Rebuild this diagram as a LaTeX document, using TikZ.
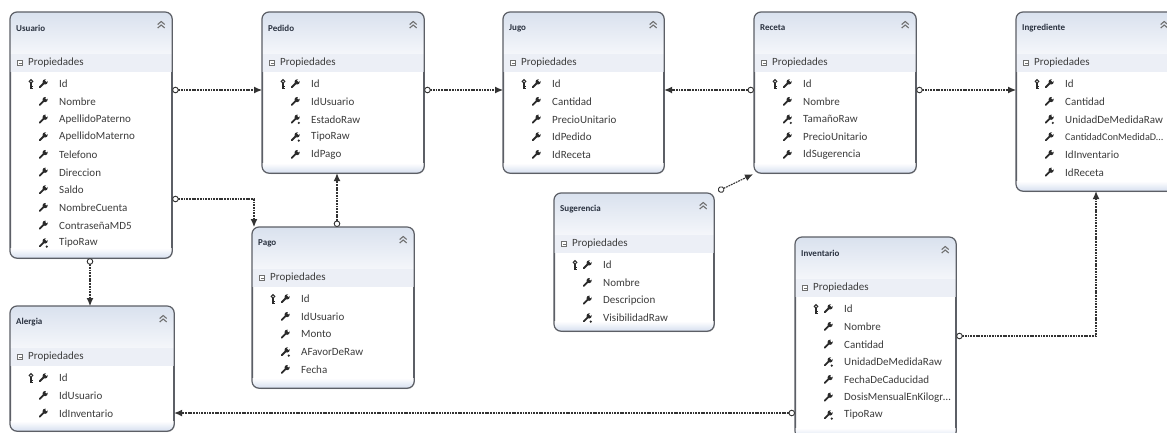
\documentclass[tikz,border=0pt]{standalone}
\usepackage{fontspec}
\setmainfont{Carlito}
\usetikzlibrary{arrows.meta,shadows,calc}
\definecolor{bordercol}{HTML}{5C5F66}
\definecolor{headtop}{HTML}{D9E1EE}
\definecolor{headbot}{HTML}{F4F6FA}
\definecolor{bandcol}{HTML}{ECEFF6}
\definecolor{footcol}{HTML}{D6DFEF}
\definecolor{txtcol}{HTML}{3C3C3C}
\definecolor{titlecol}{HTML}{2A3240}
\definecolor{iconcol}{HTML}{2A2A2A}
\definecolor{linecol}{HTML}{333333}
\definecolor{chevcol}{HTML}{707070}
\tikzset{
 entbox/.style={draw=bordercol, line width=1.2pt, rounded corners=7pt, fill=white, inner sep=0pt, anchor=north west,
   drop shadow={shadow xshift=1.2pt, shadow yshift=-1.4pt, opacity=0.35}},
 enttitle/.style={font=\fontsize{9}{10}\selectfont\bfseries, text=titlecol, anchor=west, inner sep=0pt},
 rowtext/.style={font=\fontsize{11}{12}\selectfont, text=txtcol, anchor=west, inner sep=0pt},
 rel/.style={draw=linecol, line width=1.1pt, dash pattern=on 1.8pt off 0.9pt,
   {Circle[open,fill=white,length=6.5pt,width=6.5pt,line width=0.9pt]}-{Latex[length=8pt,width=7pt]}},
}
\newcommand\wrenchicon[1]{%
 \begin{scope}[shift={(#1)}, x=1pt, y=1pt]
  \draw[iconcol, line width=1.8pt, line cap=round] (-3.3,-3.3) -- (1.2,1.2);
  \fill[iconcol] (2.1,2.1) circle (2.6pt);
  \fill[white] (3.5,3.5) circle (1.3pt);
 \end{scope}}
\newcommand\keyicon[1]{%
 \begin{scope}[shift={(#1)}, x=1pt, y=1pt]
  \draw[iconcol, line width=1pt] (0,2.6) circle (1.8pt);
  \draw[iconcol, line width=1.1pt] (0,0.8) -- (0,-4.6);
  \draw[iconcol, line width=0.9pt] (0,-2.8) -- (1.6,-2.8) (0,-4.3) -- (1.6,-4.3);
 \end{scope}}
\newcommand\rawdot[1]{%
 \begin{scope}[shift={(#1)}, x=1pt, y=1pt]
  \fill[iconcol] (3.8,-3.6) circle (1.2pt);
 \end{scope}}
\newcommand\chevicon[1]{%
 \begin{scope}[shift={(#1)}, x=1pt, y=1pt]
  \draw[chevcol, line width=1.1pt] (-3.5,0.5) -- (0,3.5) -- (3.5,0.5);
  \draw[chevcol, line width=1.1pt] (-3.5,-3) -- (0,0) -- (3.5,-3);
 \end{scope}}
\newcommand\minusicon[1]{%
 \begin{scope}[shift={(#1)}, x=1pt, y=1pt]
  \draw[chevcol, line width=0.5pt, fill=white] (-2.5,-2.5) rectangle (2.5,2.5);
  \draw[chevcol, line width=0.6pt] (-1.5,0) -- (1.5,0);
 \end{scope}}
% name, x, y, w, h, title, rows
\newcommand\entity[7]{%
 \node[entbox, minimum width=#4pt, minimum height=#5pt] (#1) at (#2,#3) {};
 \begin{scope}
  \clip[rounded corners=7pt] (#1.north west) rectangle (#1.south east);
  \shade[top color=headtop, bottom color=headbot] (#1.north west) rectangle ([yshift=-41pt]#1.north east);
  \fill[bandcol] ([yshift=-42pt]#1.north west) rectangle ([yshift=-60pt]#1.north east);
  \shade[top color=white, bottom color=footcol] ([yshift=10pt]#1.south west) rectangle (#1.south east);
 \end{scope}
 \draw[draw=bordercol, line width=1.2pt, rounded corners=7pt] (#1.north west) rectangle (#1.south east);
 \node[enttitle] (#1-title) at ([shift={(6pt,-16pt)}]#1.north west) {#6};
 \coordinate (#1-chev) at ([shift={(-11pt,-13pt)}]#1.north east);
 \chevicon{#1-chev}
 \coordinate (#1-minus) at ([shift={(10pt,-51pt)}]#1.north west);
 \minusicon{#1-minus}
 \node[rowtext] (#1-props) at ([shift={(18pt,-51pt)}]#1.north west) {Propiedades};
 \foreach \kind/\txt [count=\i from 0] in {#7} {
  \node[rowtext] (#1-r\i) at ([shift={(49pt,{-72pt-\i*17.67pt})}]#1.north west) {\txt};
  \coordinate (#1-w\i) at ([shift={(33pt,{-72pt-\i*17.67pt})}]#1.north west);
  \wrenchicon{#1-w\i}
  \ifnum\kind=1
   \coordinate (#1-k\i) at ([shift={(21pt,{-72pt-\i*17.67pt})}]#1.north west);
   \keyicon{#1-k\i}
  \fi
  \ifnum\kind=2
   \rawdot{#1-w\i}
  \fi
 }
}
\begin{document}
\begin{tikzpicture}[x=1pt,y=-1pt]
\useasboundingbox (0,0) rectangle (1167,432);
\clip (0,0) rectangle (1167,432);
\fill[white] (0,0) rectangle (1167,432);

\entity{usuario}{10}{12}{161}{245}{Usuario}{1/Id,0/Nombre,0/ApellidoPaterno,0/ApellidoMaterno,0/Telefono,0/Direccion,0/Saldo,0/NombreCuenta,0/ContraseñaMD5,2/TipoRaw}
\entity{pedido}{262}{12}{161}{160}{Pedido}{1/Id,0/IdUsuario,2/EstadoRaw,2/TipoRaw,0/IdPago}
\entity{jugo}{503}{12}{160}{160}{Jugo}{1/Id,0/Cantidad,0/PrecioUnitario,0/IdPedido,0/IdReceta}
\entity{receta}{754}{12}{161}{160}{Receta}{1/Id,0/Nombre,2/TamañoRaw,0/PrecioUnitario,0/IdSugerencia}
\entity{ingrediente}{1016}{12}{158}{178}{Ingrediente}{1/Id,0/Cantidad,2/UnidadDeMedidaRaw,0/{\fontsize{10.2}{12}\selectfont CantidadConMedidaD\ldots},0/IdInventario,0/IdReceta}
\entity{pago}{252}{227}{161}{160}{Pago}{1/Id,0/IdUsuario,0/Monto,2/AFavorDeRaw,0/Fecha}
\entity{sugerencia}{554}{193}{159}{137}{Sugerencia}{1/Id,0/Nombre,0/Descripcion,2/VisibilidadRaw}
\entity{alergia}{10}{306}{163}{124}{Alergia}{1/Id,0/IdUsuario,0/IdInventario}
\entity{inventario}{795}{237}{160}{200}{Inventario}{1/Id,0/Nombre,0/Cantidad,2/UnidadDeMedidaRaw,0/FechaDeCaducidad,0/DosisMensualEnKilogr\ldots,2/TipoRaw}

\draw[rel] ([yshift=-78pt]usuario.north east) -- ([yshift=-78pt]pedido.north west);
\draw[rel] ([yshift=-187pt]usuario.north east) -| ([xshift=2pt]pago.north west);
\draw[rel] ([xshift=80pt]usuario.south west) -- ([xshift=80pt]alergia.north west);
\draw[rel] ([yshift=-78pt]pedido.north east) -- ([yshift=-78pt]jugo.north west);
\draw[rel] ([xshift=85pt]pago.north west) -- ([xshift=75pt]pedido.south west);
\draw[rel] ([yshift=-78pt]receta.north west) -- ([yshift=-78pt]jugo.north east);
\draw[rel] ([yshift=-78pt]receta.north east) -- ([yshift=-78pt]ingrediente.north west);
\draw[rel] ([shift={(4pt,2pt)}]sugerencia.north east) -- ([shift={(-1pt,-1pt)}]receta.south west);
\draw[rel] ([yshift=-99pt]inventario.north east) -| ([xshift=80pt]ingrediente.south west);
\draw[rel] ([yshift=-176pt]inventario.north west) -- ([yshift=-107pt]alergia.north east);
\end{tikzpicture}
\end{document}
